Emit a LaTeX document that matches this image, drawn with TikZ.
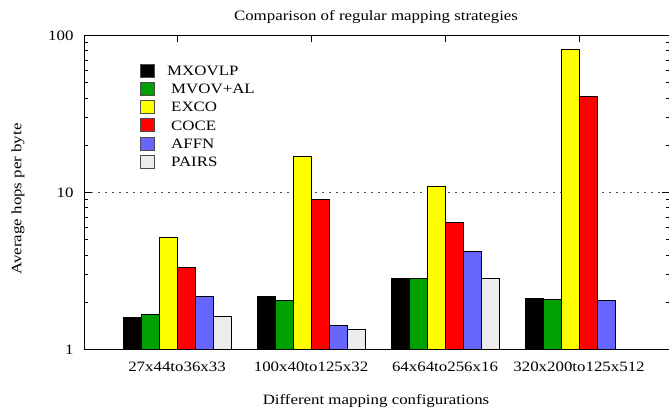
\documentclass[tikz,border=0pt]{standalone}
\usepackage{fontspec}
\setmainfont{Liberation Serif}[FakeStretch=1.18]
\definecolor{bar0}{RGB}{0,0,0}
\definecolor{bar1}{RGB}{0,160,0}
\definecolor{bar2}{RGB}{255,255,0}
\definecolor{bar3}{RGB}{255,0,0}
\definecolor{bar4}{RGB}{102,102,255}
\definecolor{bar5}{RGB}{236,236,236}
\begin{document}
\begin{tikzpicture}[x=1pt,y=1pt,font=\fontsize{14.3}{16}\selectfont,
    bar/.style={draw=black,line width=0.8pt},
    keybox/.style={draw=black!70,line width=0.8pt,minimum width=14pt,minimum height=13pt,inner sep=0pt}]
  \useasboundingbox (0,0) rectangle (669,411);

  % grid line at 10
  \draw[dash pattern=on 1.5pt off 5.5pt,line width=0.8pt,black!70] (84,218.5) -- (669,218.5);

  % bars, one group per configuration
  \foreach \c/\vl in {177/{1.6,1.67,5.17,3.33,2.18,1.62},
                      311/{2.19,2.06,17.1,9.1,1.42,1.35},
                      445/{2.85,2.85,10.9,6.46,4.2,2.85},
                      579/{2.11,2.10,81.5,41,2.06,1}} {
    \foreach \v [count=\i from 0] in \vl {
      \pgfmathsetmacro\top{61.5+157*log10(\v)}
      \draw[bar,fill=bar\i] (\c-54+18*\i,61.5) rectangle (\c-36+18*\i,\top);
    }
  }

  % frame and ticks
  \draw[line width=0.8pt] (84,61.5) rectangle (670,375.5);
  \foreach \d in {0,1} {
    \foreach \m in {2,...,9} {
      \pgfmathsetmacro\yy{61.5+157*(\d+log10(\m))}
      \draw[line width=0.6pt] (84,\yy) -- ++(3.5,0);
      \draw[line width=0.6pt] (669,\yy) -- ++(-3.5,0);
    }
  }
  \foreach \yy in {61.5,218.5,375.5} {
    \draw[line width=0.6pt] (84,\yy) -- ++(7,0);
    \draw[line width=0.6pt] (669,\yy) -- ++(-7,0);
  }
  \foreach \c in {177,311,445,579} {
    \draw[line width=0.6pt] (\c,375.5) -- ++(0,-7);
  }

  % tick labels
  \node[anchor=east] (ylab1)   at (77,61.5)  {1};
  \node[anchor=east] (ylab10)  at (77,218.5) {10};
  \node[anchor=east] (ylab100) at (77,375.5) {100};
  \node (cfg1) at (177,44) {27x44to36x33};
  \node (cfg2) at (311,44) {100x40to125x32};
  \node (cfg3) at (445,44) {64x64to256x16};
  \node (cfg4) at (579,44) {320x200to125x512};

  % titles
  \node (title)  at (376,394) {Comparison of regular mapping strategies};
  \node (xtitle) at (376,10)  {Different mapping configurations};
  \node[rotate=90] (ytitle) at (18,212) {Average hops per byte};

  % legend
  \foreach \name/\dx [count=\i from 0] in {MXOVLP/167,MVOV+AL/171,EXCO/171,COCE/171,AFFN/171,PAIRS/171} {
    \node[keybox,fill=bar\i] (key\i) at (147.5,340.5-18.3*\i) {};
    \node[anchor=west,inner sep=0pt] (keylab\i) at (\dx,340.5-18.3*\i) {\name};
  }
\end{tikzpicture}
\end{document}
